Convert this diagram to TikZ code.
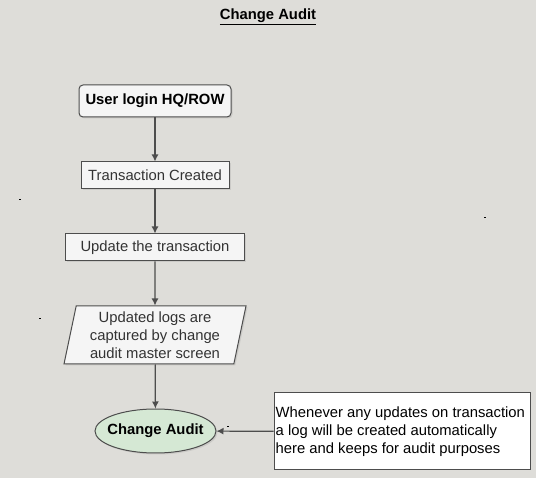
\documentclass[tikz,border=0pt]{standalone}
\usepackage{fontspec}
\setmainfont{Liberation Sans}
\usetikzlibrary{shapes.geometric,shadows,arrows.meta}

\definecolor{bgcol}{HTML}{DEDDD9}
\definecolor{boxfill}{HTML}{F5F5F5}
\definecolor{boxline}{HTML}{4D4D4D}
\definecolor{textgray}{HTML}{333333}
\definecolor{auditgreen}{HTML}{D5E8D4}

\newcommand{\fs}{\fontsize{14.8}{18}\selectfont}

\begin{document}
\begin{tikzpicture}[
                x=1pt,y=-1pt,
                stepbox/.style={draw=boxline,fill=boxfill,line width=1pt,text=textgray,font=\fs,
                    drop shadow={shadow xshift=1.5pt,shadow yshift=-1.5pt,opacity=.2}},
                flow/.style={draw=boxline,line width=1.2pt,-{Latex[length=7pt,width=7pt]}}
            ]
                % page and title
                \fill[bgcol] (0,0) rectangle (536,478);
                \node[font=\fs\bfseries] (title) at (268,17) {\underline{Change Audit}};
                % flow
                \node[stepbox,rounded corners=4pt,minimum width=152pt,minimum height=32pt,text=black,font=\fs\bfseries] (login) at (155,101) {User login HQ/ROW};
                \node[stepbox,minimum width=148pt,minimum height=27pt] (created) at (155,175.5) {Transaction Created};
                \node[stepbox,minimum width=179pt,minimum height=27pt] (update) at (155,247.5) {Update the transaction};
                \node[stepbox,trapezium,trapezium left angle=76,trapezium right angle=104,trapezium stretches body,
                    minimum width=182pt,minimum height=58pt,inner sep=1pt,align=center] (logs) at (155,335)
                    {Updated logs are\\captured by change\\audit master screen};
                \node[stepbox,ellipse,fill=auditgreen,minimum width=121pt,minimum height=44pt,inner xsep=-10pt,inner ysep=0pt,text=black,font=\fs\bfseries] (audit) at (155.5,431) {Change Audit};
                \node[draw=boxline,fill=white,line width=1pt,minimum width=256pt,minimum height=77pt] (note) at (402,431.5) {};
                \node[font=\fs,align=left,anchor=west,inner sep=0pt] (notetext) at ([xshift=2pt]note.west)
                    {Whenever any updates on transaction\\a log will be created automatically\\here and keeps for audit purposes};
                \draw[flow] (login) -- (created);
                \draw[flow] (created) -- (update);
                \draw[flow] (update) -- (logs);
                \draw[flow] (logs) -- (audit);
                \draw[flow] (note) -- (audit);
                % stray dots
                \foreach \dx/\dy in {19/199,484/217,39/318,227/426}
                    \fill[black] (\dx,\dy) rectangle +(1.5,1.5);
            \end{tikzpicture}
\end{document}
